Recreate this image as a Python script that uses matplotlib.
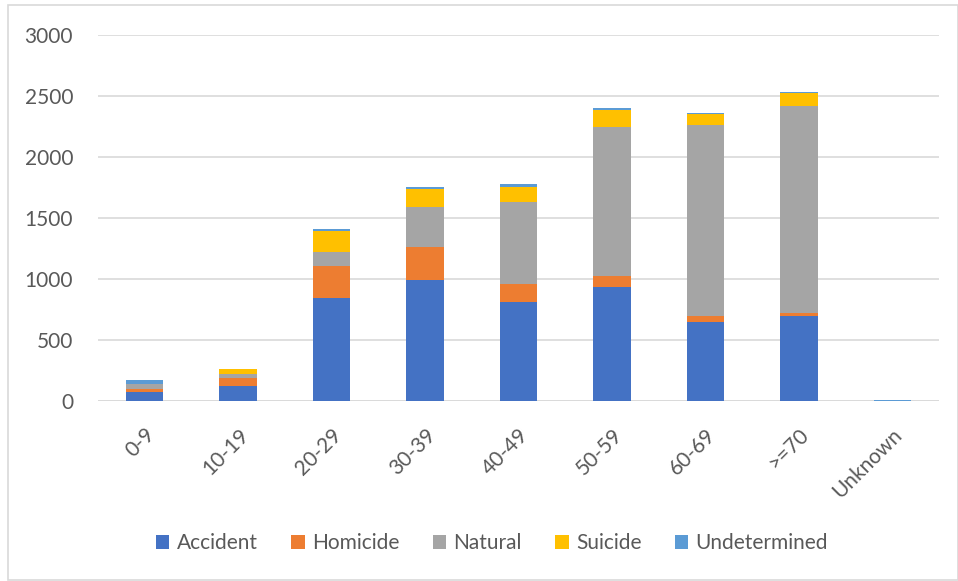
import matplotlib
matplotlib.use("Agg")
import matplotlib.pyplot as plt
from matplotlib.patches import Rectangle
import numpy as np

plt.rcParams['font.family'] = ['Lato', 'DejaVu Sans']

age_groups = ["0-9", "10-19", "20-29", "30-39", "40-49", "50-59", "60-69", ">=70", "Unknown"]
accident = [77, 126, 845, 994, 812, 931, 651, 697, 0]
homicide = [22, 66, 264, 271, 143, 93, 46, 28, 0]
natural = [39, 30, 110, 322, 676, 1221, 1569, 1693, 4]
suicide = [3, 39, 175, 154, 126, 142, 87, 104, 0]
undetermined = [35, 3, 15, 14, 18, 14, 11, 8, 6]

series = [
    ("Accident", accident, "#4472C4"),
    ("Homicide", homicide, "#ED7D31"),
    ("Natural", natural, "#A5A5A5"),
    ("Suicide", suicide, "#FFC000"),
    ("Undetermined", undetermined, "#5B9BD5"),
]

text_color = "#595959"
grid_color = "#D9D9D9"

fig = plt.figure(figsize=(9.58, 5.81), dpi=100)
ax = fig.add_axes([98 / 958, 1 - 401 / 581, (939 - 98) / 958, (401 - 35) / 581])

x = np.arange(len(age_groups))
bottom = np.zeros(len(age_groups))
for name, vals, color in series:
    vals = np.array(vals, dtype=float)
    ax.bar(x, vals, width=0.4, bottom=bottom, color=color, label=name, zorder=3)
    bottom += vals

ax.set_xlim(-0.5, len(age_groups) - 0.5)
ax.set_ylim(0, 3000)
ax.set_yticks(np.arange(0, 3001, 500))
ax.yaxis.grid(True, color=grid_color, linewidth=1.2, zorder=0)
ax.set_axisbelow(True)
for side in ["top", "right", "left", "bottom"]:
    ax.spines[side].set_visible(False)
ax.axhline(0, color=grid_color, linewidth=1.2, zorder=2)

ax.tick_params(axis="both", length=0, labelsize=15, labelcolor=text_color)
ax.tick_params(axis="y", pad=18)
ax.set_xticks(x)
ax.set_xticklabels(age_groups, rotation=45, ha="right", va="top", rotation_mode="anchor")
ax.tick_params(axis="x", pad=17)

leg = fig.legend(loc="center", bbox_to_anchor=(492 / 958, 1 - 543 / 581), ncol=5,
                 frameon=False, fontsize=15, handlelength=0.65, handleheight=0.65,
                 handletextpad=0.35, columnspacing=1.6, labelcolor=text_color)

fig.patches.append(Rectangle((8 / 958, 1 / 581), (958 - 8) / 958, (575) / 581,
                             transform=fig.transFigure, fill=False,
                             edgecolor=grid_color, linewidth=1.2))

fig.savefig("out.png", dpi=100)
